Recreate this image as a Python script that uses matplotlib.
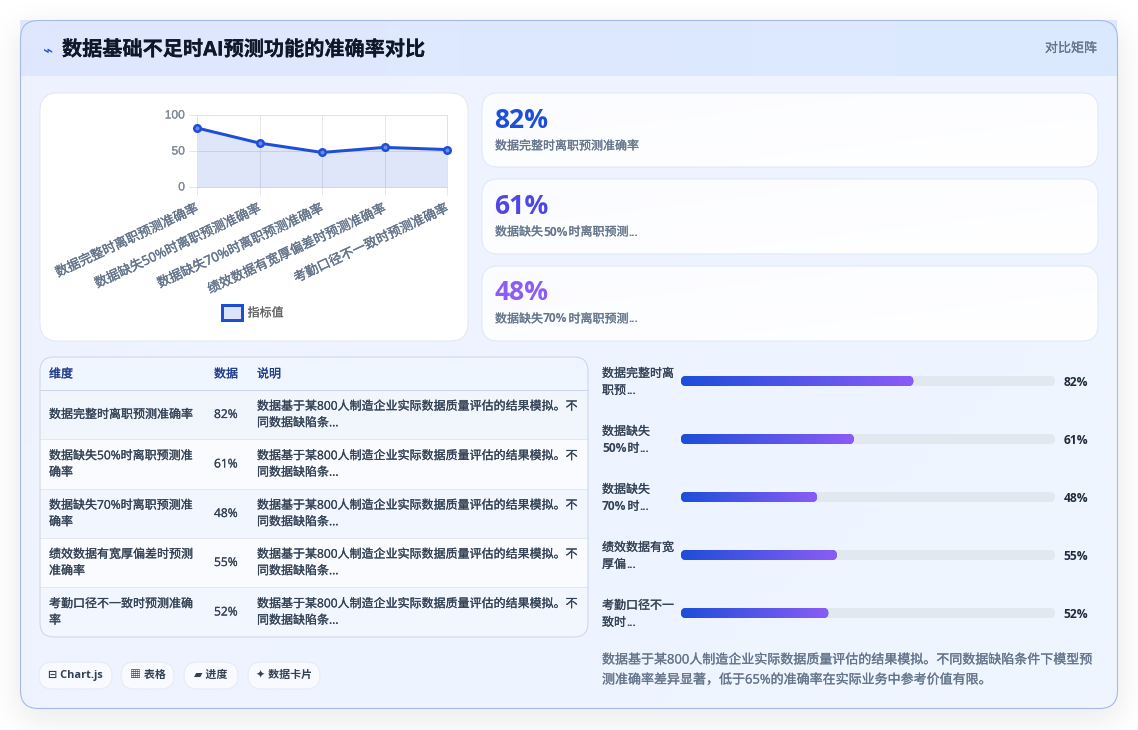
import math
import re
import numpy as np
import matplotlib
matplotlib.use("Agg")
import matplotlib.pyplot as plt
import matplotlib.patheffects as pe
from matplotlib.patches import FancyBboxPatch, Rectangle, Patch
from matplotlib.colors import LinearSegmentedColormap, to_rgb
from matplotlib.transforms import ScaledTranslation

# ---- chart data ----
categories = ["数据完整时离职预测准确率", "数据缺失50%时离职预测准确率", "数据缺失70%时离职预测准确率",
              "绩效数据有宽厚偏差时预测准确率", "考勤口径不一致时预测准确率"]
values = [82, 61, 48, 55, 52]
yticks = [0, 50, 100]
series_name = "指标值"

title = "数据基础不足时AI预测功能的准确率对比"
badge = "对比矩阵"
title_icon = "⌁"

card_values = ["82%", "61%", "48%"]
card_labels = ["数据完整时离职预测准确率", "数据缺失50%时离职预测...", "数据缺失70%时离职预测..."]
card_colors = ["#1d4ed8", "#4f46e5", "#8b5cf6"]

table_header = ["维度", "数据", "说明"]
table_dims = [["数据完整时离职预测准确率"],
              ["数据缺失50%时离职预测准", "确率"],
              ["数据缺失70%时离职预测准", "确率"],
              ["绩效数据有宽厚偏差时预测", "准确率"],
              ["考勤口径不一致时预测准确", "率"]]
table_note = ["数据基于某800人制造企业实际数据质量评估的结果模拟。不", "同数据缺陷条..."]

bar_labels = [["数据完整时离", "职预..."], ["数据缺失", "50%时..."], ["数据缺失", "70%时..."],
              ["绩效数据有宽", "厚偏..."], ["考勤口径不一", "致时..."]]
footnote = ["数据基于某800人制造企业实际数据质量评估的结果模拟。不同数据缺陷条件下模型预",
            "测准确率差异显著，低于65%的准确率在实际业务中参考价值有限。"]
pills = [("⊟ Chart.js", 39, 112), ("▦ 表格", 121, 174), ("▰ 进度", 184, 238), ("✦ 数据卡片", 248, 320)]

W, H = 1138, 730
FONT = ["Open Sans", "Noto Sans CJK SC", "DejaVu Sans"]
plt.rcParams["font.family"] = FONT


def px(size):
    """CSS pixels to points at dpi 100."""
    return size * 0.72


def thicken(color, width=0.22):
    return [pe.withStroke(linewidth=px(width), foreground=color)]


fig = plt.figure(figsize=(W / 100, H / 100), dpi=100, facecolor="white")
page = fig.add_axes([0, 0, 1, 1], zorder=0)
page.set_xlim(0, W)
page.set_ylim(H, 0)
page.axis("off")


def rrect(x0, y0, x1, y1, r, fc="none", ec="none", lw=1.0, z=2, target=None):
    patch = FancyBboxPatch((x0, y0), x1 - x0, y1 - y0, boxstyle=f"round,pad=0,rounding_size={r}",
                           fc=fc, ec=ec, lw=px(lw), zorder=z)
    (target or page).add_patch(patch)
    return patch


def gradient(x0, y0, x1, y1, c0, c1, clip=None, z=2, angle_mix=0.0):
    """Paint a horizontal (optionally slanted) two-colour gradient into a rectangle."""
    n = 256
    gx = np.linspace(0, 1, n)
    gy = np.linspace(0, 1, n)
    t = (gx[None, :] * (1 - angle_mix) + gy[:, None] * angle_mix)
    a, b = np.array(to_rgb(c0)), np.array(to_rgb(c1))
    img = a[None, None, :] + (b - a)[None, None, :] * t[:, :, None]
    im = page.imshow(img, extent=(x0, x1, y1, y0), origin="upper", aspect="auto", zorder=z, interpolation="bilinear")
    if clip is not None:
        im.set_clip_path(clip)
    page.set_xlim(0, W)
    page.set_ylim(H, 0)
    return im


def label(x, y, s, size, color, weight="normal", ha="left", va="center", z=6, family=None, stroke=0.22):
    t = page.text(x, y, s, fontsize=px(size), color=color, fontweight=weight, ha=ha, va=va, zorder=z,
                  family=family or FONT)
    if stroke:
        t.set_path_effects(thicken(color, stroke))
    return t


def mixed_label(x, y, s, size, color):
    """Left-aligned text whose digits, percent signs and dots are set bold."""
    renderer = fig.canvas.get_renderer()
    for part in re.findall(r"[0-9%.]+|[^0-9%.]+", s):
        is_latin = re.fullmatch(r"[0-9%.]+", part) is not None
        t = label(x, y, part, size, color, weight="bold" if is_latin else "normal", stroke=0 if is_latin else 0.22)
        x += t.get_window_extent(renderer).width + (1.0 if is_latin else 0.0)


# ---- soft shadow under the panel ----
CX0, CY0, CX1, CY1 = 20.5, 20.5, 1117.5, 708.5
erf = np.vectorize(math.erf)
xs = np.arange(W) + 0.5
ys = np.arange(H) + 0.5
sigma = 17.0
sx = 0.5 * (erf((xs - CX0) / (sigma * 2 ** 0.5)) - erf((xs - CX1) / (sigma * 2 ** 0.5)))
sy = 0.5 * (erf((ys - CY0 - 9) / (sigma * 2 ** 0.5)) - erf((ys - CY1 - 9) / (sigma * 2 ** 0.5)))
shadow = np.zeros((H, W, 4))
shadow[..., :3] = to_rgb("#0f172a")
shadow[..., 3] = np.outer(sy, sx) * 0.10
page.imshow(shadow, extent=(0, W, H, 0), aspect="auto", zorder=0.5, interpolation="nearest")
page.set_xlim(0, W)
page.set_ylim(H, 0)

# ---- panel body and header ----
panel = rrect(CX0, CY0, CX1, CY1, 18, fc="#eff4ff", z=1)
gradient(CX0, CY0, CX1, CY1, "#eef2ff", "#eef6ff", clip=panel, z=1.2, angle_mix=0.4)
gradient(CX0, CY0, CX1, 76, "#e0e7ff", "#dbeafe", z=1.4)
rrect(CX0, CY0, CX1, CY1, 18, ec="#a9b8e8", lw=1.1, z=1.6)

page.text(47.5, 51, title_icon, fontsize=px(17), color="#1d4ed8", ha="center", va="center", zorder=6,
          family="DejaVu Sans")
label(62, 50.5, title, 20.15, "#0f172a", weight="bold", stroke=0.2)
label(1097, 48.5, badge, 13, "#64748b", ha="right")

# ---- white chart card ----
rrect(40, 93, 468, 341, 18, fc="white", ec="#e2e8f0")

# ---- KPI cards ----
for (top, bottom), val, txt, col in zip([(93, 167), (179, 254), (266, 341)], card_values, card_labels, card_colors):
    c = rrect(482, top, 1098, bottom, 16, fc="white", z=2)
    gradient(482, top, 1098, bottom, "#fbfcff", "#ffffff", clip=c, z=2.1, angle_mix=0.5)
    rrect(482, top, 1098, bottom, 16, ec="#dfe7f6", z=2.2)
    label(494.5, top + 27.5, val, 26.5, col, weight="bold", stroke=0)
    mixed_label(495, top + 53, txt, 12, "#64748b")

# ---- table ----
TX0, TX1 = 40, 588
rows = [(390, 439), (439, 489), (489, 538), (538, 587), (587, 637)]
row_fill = ["#f1f5fc", "#fafbff", "#f2f6ff", "#fafbff", "#f2f6ff"]
tbl = rrect(TX0, 357, TX1, 637, 14, fc="#f5f8ff", z=2)
head = page.add_patch(Rectangle((TX0, 357), TX1 - TX0, 33, fc="#f0f6ff", ec="none", zorder=2.1))
head.set_clip_path(tbl)
for (r0, r1), fill in zip(rows, row_fill):
    rect = page.add_patch(Rectangle((TX0, r0), TX1 - TX0, r1 - r0, fc=fill, ec="none", zorder=2.1))
    rect.set_clip_path(tbl)
    if r0 > 390:
        page.plot([TX0, TX1], [r0 - 0.5, r0 - 0.5], color="#e2e8f0", lw=px(1), zorder=2.3, solid_capstyle="butt")
page.plot([TX0, TX1], [389.5, 389.5], color="#ccd6ea", lw=px(1), zorder=2.3, solid_capstyle="butt")
rrect(TX0, 357, TX1, 637, 14, ec="#cbd5e6", lw=1, z=2.4)

for xpos, name in zip([49, 214, 257], table_header):
    label(xpos, 374, name, 12, "#1e3a8a")
for (r0, r1), dims, val in zip(rows, table_dims, values):
    mid = (r0 + r1) / 2
    n = len(dims)
    for k, line in enumerate(dims):
        label(49, mid + (k - (n - 1) / 2) * 16.5, line, 12, "#334155")
    label(214, mid, f"{val}%", 12, "#334155")
    for k, line in enumerate(table_note):
        label(257, mid + (k - 0.5) * 16.5, line, 12, "#334155")

# ---- pills ----
for text, x0, x1 in pills:
    rrect(x0, 662, x1, 689, 13.5, fc="#f8faff", ec="#e5eaf5", z=2)
    label((x0 + x1) / 2, 675.5, text, 11, "#334155", weight="bold", ha="center", stroke=0)

# ---- footnote ----
for y, line in zip([660, 680], footnote):
    label(602, y, line, 13, "#64748b")

# ---- line chart ----
LX0, LX1, LY0, LY1 = 197, 447, 115, 187
ax = fig.add_axes([LX0 / W, 1 - LY1 / H, (LX1 - LX0) / W, (LY1 - LY0) / H], zorder=3)
ax.patch.set_alpha(0)
xpos = np.arange(len(categories))
ax.set_xlim(0, len(categories) - 1)
ax.set_ylim(0, 100)
ax.grid(True, color="#e4e6ea", lw=px(1), zorder=0)
ax.set_axisbelow(True)
ax.fill_between(xpos, values, 0, color="#1d4ed8", alpha=0.14, lw=0, zorder=1)
ax.plot(xpos, values, color="#1d4ed8", lw=px(3), zorder=3, clip_on=False, marker="o", ms=px(6.5),
        mfc="#6f8ae6", mec="#1d4ed8", mew=px(2.5))
ax.set_yticks(yticks)
ax.set_yticklabels([str(v) for v in yticks], family="Liberation Sans", fontsize=px(12), color="#7f8998")
ax.set_xticks(xpos)
ax.set_xticklabels(categories, rotation=25, ha="right", va="top", rotation_mode="anchor",
                   fontsize=px(13), color="#64748b")
ax.tick_params(axis="x", length=px(8), width=px(1), color="#e4e6ea", pad=px(7))
ax.tick_params(axis="y", length=px(8), width=px(1), color="#e4e6ea", pad=px(4))
up = ScaledTranslation(0, 1.0 / 100, fig.dpi_scale_trans)
for tick_text in ax.get_yticklabels():
    tick_text.set_transform(tick_text.get_transform() + up)
    tick_text.set_path_effects(thicken("#7f8998", 0.2))
left = ScaledTranslation(-2.0 / 100, 0, fig.dpi_scale_trans)
for tick_text in ax.get_xticklabels():
    tick_text.set_transform(tick_text.get_transform() + left)
    tick_text.set_path_effects(thicken("#64748b", 0.35))
for spine in ax.spines.values():
    spine.set_color("#e0e3e8")
    spine.set_linewidth(px(1))
ax.spines["bottom"].set_color("#cfd6e6")
handle = Patch(facecolor="#dde4f8", edgecolor="#1d4ed8", lw=px(3), label=series_name)
leg = ax.legend(handles=[handle], loc="center", bbox_to_anchor=(253 / W, 1 - 312.5 / H), bbox_transform=fig.transFigure,
                frameon=False, fontsize=px(12), handlelength=1.65, handleheight=1.5, handletextpad=0.45,
                labelcolor="#666666", borderpad=0, borderaxespad=0)
for legend_text in leg.get_texts():
    legend_text.set_path_effects(thicken("#666666", 0.2))

# ---- progress bars, on a scale where the full track spans 132 units ----
BX0, BX1 = 681, 1055
ROW0, ROW_H = 381, 58
TRACK_MAX = 132.0
bar_ax = fig.add_axes([BX0 / W, 1 - (ROW0 + 4.5 * ROW_H) / H, (BX1 - BX0) / W, 5 * ROW_H / H], zorder=3)
bar_ax.set_xlim(0, TRACK_MAX)
bar_ax.set_ylim(4.5, -0.5)
bar_ax.axis("off")
unit_x = (BX1 - BX0) / TRACK_MAX
bar_h = 10 / ROW_H
cmap = LinearSegmentedColormap.from_list("fill", ["#1d4ed8", "#8b5cf6"])
for i, (val, lines) in enumerate(zip(values, bar_labels)):
    box = dict(boxstyle=f"round,pad=0,rounding_size={5 / unit_x}", mutation_aspect=unit_x / ROW_H, lw=0, clip_on=False)
    bar_ax.add_patch(FancyBboxPatch((0, i - bar_h / 2), TRACK_MAX, bar_h, fc="#e2e8f0", zorder=1, **box))
    fill = FancyBboxPatch((0, i - bar_h / 2), val, bar_h, fc="#1d4ed8", zorder=2, **box)
    bar_ax.add_patch(fill)
    im = bar_ax.imshow(np.linspace(0, 1, 256)[None, :], cmap=cmap, extent=(0, val, i + bar_h / 2, i - bar_h / 2),
                       aspect="auto", zorder=3)
    im.set_clip_path(fill)
    bar_ax.set_xlim(0, TRACK_MAX)
    bar_ax.set_ylim(4.5, -0.5)
    cy = ROW0 + i * ROW_H
    mixed_label(602, cy - 7.5, lines[0], 12, "#334155")
    mixed_label(602, cy + 9.5, lines[1], 12, "#334155")
    label(1063.5, cy + 1, f"{val}%", 12, "#1e293b", weight="bold", stroke=0)

fig.savefig("out.png", dpi=100, facecolor="white")
